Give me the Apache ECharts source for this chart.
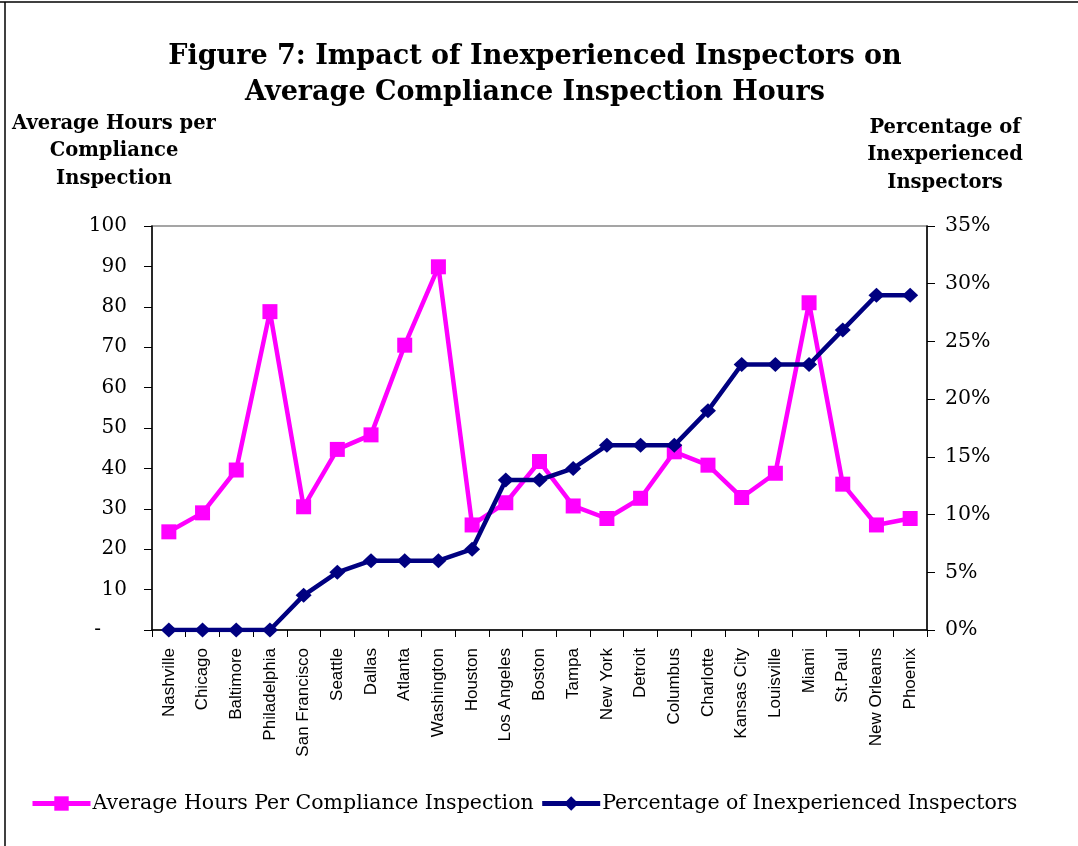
<!DOCTYPE html>
<html>
<head>
<meta charset="utf-8">
<script src="https://cdn.jsdelivr.net/npm/echarts@6/dist/echarts.min.js"></script>
<style>
  html, body { margin: 0; padding: 0; background: #fff; }
  #chart { width: 1078px; height: 846px; }
</style>
</head>
<body>
<div id="chart"></div>
<script>
// cities along the x axis
const cities = [
  'Nashville', 'Chicago', 'Baltimore', 'Philadelphia', 'San Francisco', 'Seattle',
  'Dallas', 'Atlanta', 'Washington', 'Houston', 'Los Angeles', 'Boston', 'Tampa',
  'New York', 'Detroit', 'Columbus', 'Charlotte', 'Kansas City', 'Louisville',
  'Miami', 'St.Paul', 'New Orleans', 'Phoenix'
]
// average hours per compliance inspection (left axis)
const avgHours = [
  24.3, 29.0, 39.6, 78.8, 30.5, 44.7, 48.3, 70.5, 89.9, 26.0, 31.5, 41.7,
  30.7, 27.6, 32.6, 44.1, 40.8, 32.8, 38.8, 81.0, 36.1, 26.0, 27.6
]
// percentage of inexperienced inspectors (right axis)
const pctInexperienced = [
  0, 0, 0, 0, 3, 5, 6, 6, 6, 7, 13, 13, 14, 16, 16, 16, 19, 23, 23, 23, 26, 29, 29
]

const serif = '"DejaVu Serif", serif'
const chart = echarts.init(document.getElementById('chart'))

const option = {
  animation: false,
  title: [
    {
      text: 'Figure 7: Impact of Inexperienced Inspectors on\nAverage Compliance Inspection Hours',
      left: 530, top: 34, textAlign: 'center',
      textStyle: { fontFamily: serif, fontWeight: 'bold', fontSize: 27, lineHeight: 36, color: '#000' }
    },
    {
      text: 'Average Hours per\nCompliance\nInspection',
      left: 109, top: 105, textAlign: 'center',
      textStyle: { fontFamily: serif, fontWeight: 'bold', fontSize: 19.5, lineHeight: 27.5, color: '#000' }
    },
    {
      text: 'Percentage of\nInexperienced\nInspectors',
      left: 940, top: 109, textAlign: 'center',
      textStyle: { fontFamily: serif, fontWeight: 'bold', fontSize: 19.5, lineHeight: 27.5, color: '#000' }
    }
  ],
  graphic: [
    { type: 'line', shape: { x1: 0, y1: 2, x2: 1078, y2: 2 }, style: { stroke: '#000', lineWidth: 1.5 } },
    { type: 'line', shape: { x1: 5, y1: 2, x2: 5, y2: 846 }, style: { stroke: '#000', lineWidth: 1.5 } }
  ],
  legend: {
    left: 30, top: 793, padding: 0,
    itemWidth: 58, itemHeight: 18, itemGap: 6,
    lineStyle: { width: 5 },
    textStyle: { fontFamily: serif, fontSize: 20.5, color: '#000', padding: [0, 0, 0, -3] },
    data: ['Average Hours Per Compliance Inspection', 'Percentage of Inexperienced Inspectors']
  },
  grid: {
    left: 152, right: 151, top: 226, bottom: 216,
    show: true, borderColor: '#888', borderWidth: 1.5
  },
  xAxis: {
    type: 'category',
    data: cities,
    boundaryGap: true,
    axisLine: { lineStyle: { color: '#000', width: 1.5 } },
    axisTick: { show: true, interval: 0, length: 7, lineStyle: { color: '#000' } },
    axisLabel: {
      interval: 0, rotate: 90, margin: 18,
      fontFamily: '"Liberation Sans", Arial, sans-serif', fontSize: 17, color: '#000'
    }
  },
  yAxis: [
    {
      type: 'value', min: 0, max: 100, interval: 10,
      axisLine: { show: true, lineStyle: { color: '#000', width: 1.5 } },
      axisTick: { show: true, length: 8, lineStyle: { color: '#000' } },
      splitLine: { show: false },
      axisLabel: {
        margin: 25, fontFamily: serif, fontSize: 20, color: '#000',
        formatter: v => (v === 0 ? '{d|-}' : v),
        rich: { d: { fontFamily: serif, fontSize: 20, color: '#000', padding: [0, 26, 0, 0] } }
      }
    },
    {
      type: 'value', min: 0, max: 35, interval: 5, position: 'right',
      axisLine: { show: true, lineStyle: { color: '#000', width: 1.5 } },
      axisTick: { show: true, length: 8, lineStyle: { color: '#000' } },
      splitLine: { show: false },
      axisLabel: { margin: 18, fontFamily: serif, fontSize: 20.5, color: '#000', formatter: '{value}%' }
    }
  ],
  series: [
    {
      name: 'Average Hours Per Compliance Inspection',
      type: 'line',
      yAxisIndex: 0,
      data: avgHours,
      symbol: 'rect', symbolSize: 15,
      lineStyle: { color: '#ff00ff', width: 4.5 },
      itemStyle: { color: '#ff00ff' },
      z: 2
    },
    {
      name: 'Percentage of Inexperienced Inspectors',
      type: 'line',
      yAxisIndex: 1,
      data: pctInexperienced,
      symbol: 'diamond', symbolSize: [16, 15],
      lineStyle: { color: '#000080', width: 4.5 },
      itemStyle: { color: '#000080' },
      z: 3
    }
  ]
}

chart.setOption(option)
</script>
</body>
</html>
